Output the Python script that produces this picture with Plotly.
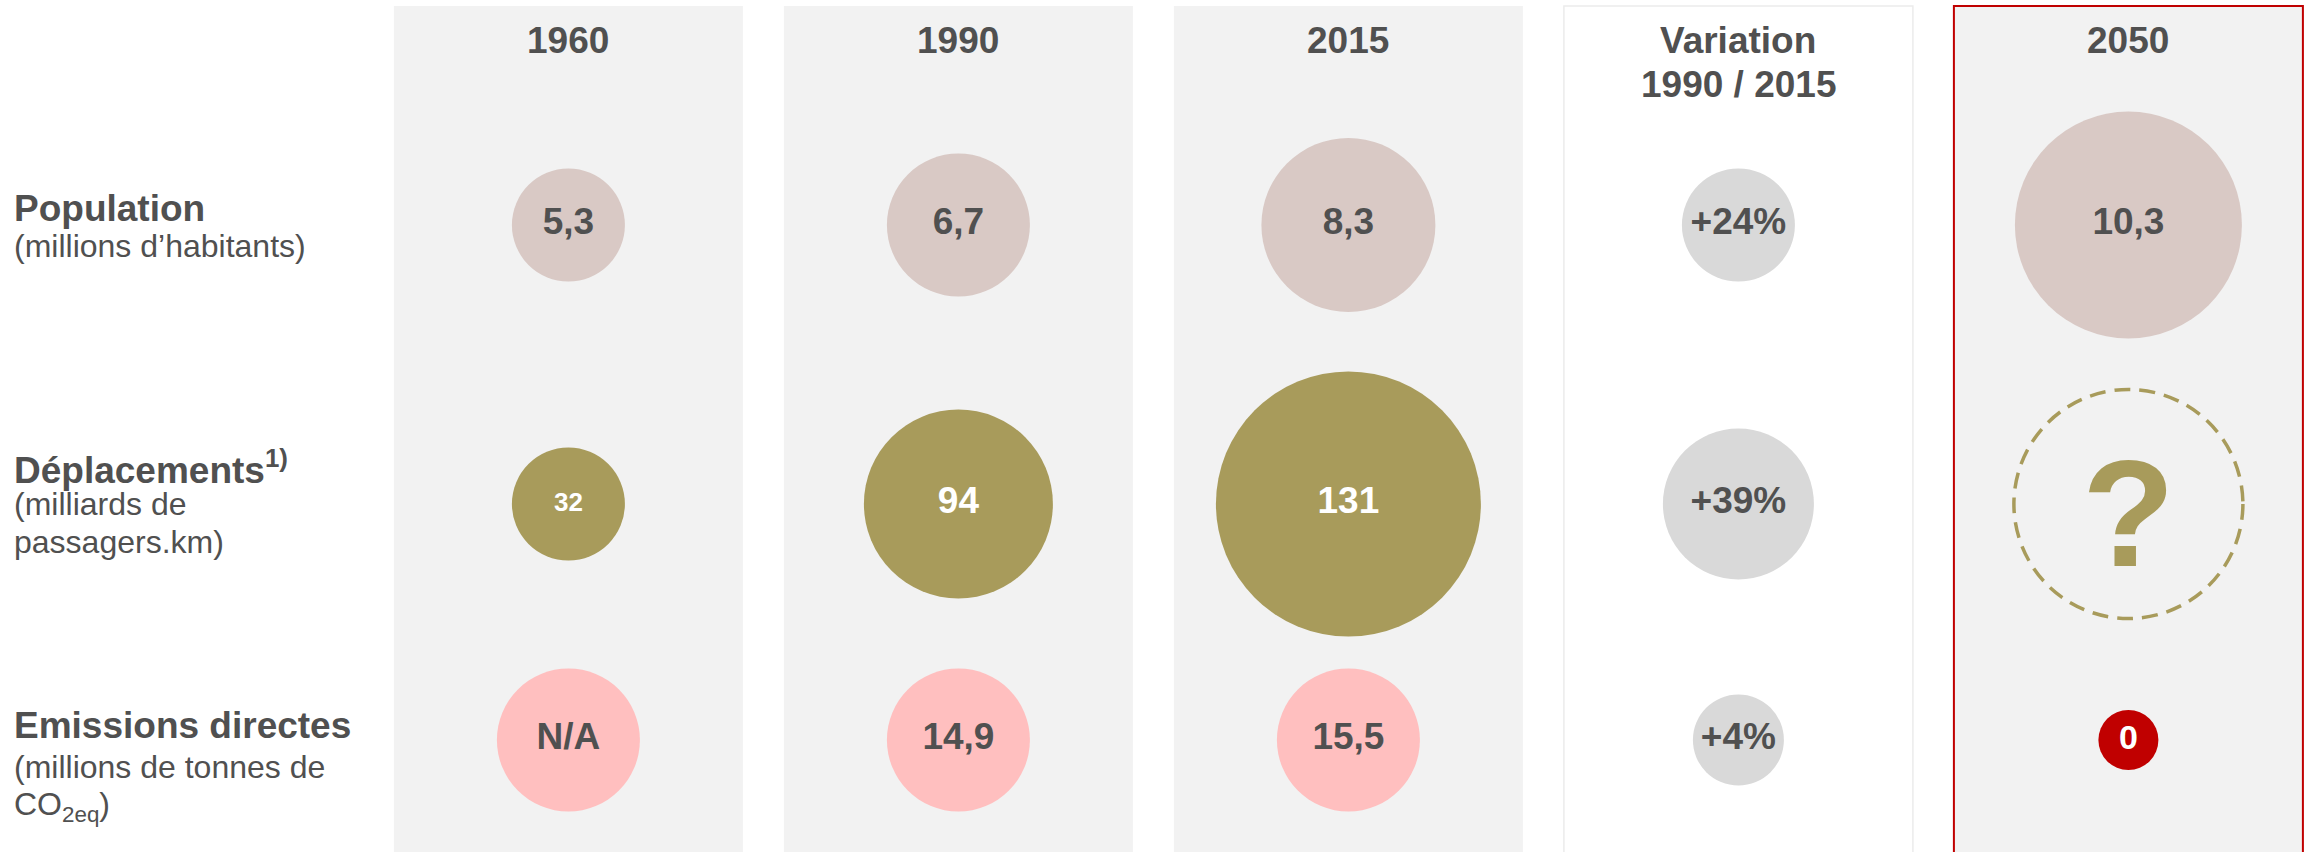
import plotly.graph_objects as go

# --- data -------------------------------------------------------------
YEARS = ["1960", "1990", "2015", "2050"]
POPULATION = [5.3, 6.7, 8.3, 10.3]          # millions d'habitants
DEPLACEMENTS = [32, 94, 131, None]          # milliards de passagers.km (2050 inconnu)
EMISSIONS = [None, 14.9, 15.5, 0]           # millions de tonnes de CO2eq (1960 N/A)
VARIATION_COL = "Variation<br>1990 / 2015"
VARIATION_PCT = [24, 39, 4]                 # variation 1990 / 2015, par ligne

ROW_TITLES = ["Population", "Déplacements<sup>1)</sup>", "Emissions directes"]
ROW_SUBTITLES = [
    ["(millions d’habitants)"],
    ["(milliards de", "passagers.km)"],
    ["(millions de tonnes de", "CO<sub>2eq</sub>)"],
]

# --- style / layout ---------------------------------------------------
COLUMNS = ["1960", "1990", "2015", VARIATION_COL, "2050"]
W, H = 2313, 852
COL_STEP = 390            # px between column centres
COL0_X = 568.4            # px of first column centre
PANEL_HALF = 174.5 / COL_STEP
ROW_Y = [225, 504, 740]   # px from top
TITLE_Y = [208, 467, 725]
SUB_Y = [[246], [504, 542], [767, 806]]

TEXT = "#505050"
PANEL = "#f2f2f2"
POP_C = "#d9c9c5"
OLIVE = "#a89b5b"
PINK = "#ffbfbf"
GREY = "#d9d9d9"
RED = "#c00000"
FONT = "Liberation Sans, Arial, sans-serif"

DIAM_POP = [113, 143, 174, 227]
DIAM_DEP = [113, 189, 265, 229]
DIAM_EM = [143, 143, 143, 60]
DIAM_VAR = [113, 151, 91]


def fr(v):
    if v is None:
        return "N/A"
    if isinstance(v, int):
        return str(v)
    return f"{v:.1f}".replace(".", ",")


fig = go.Figure()

# Population
fig.add_trace(go.Scatter(
    x=YEARS, y=[ROW_Y[0]] * len(YEARS), mode="markers+text",
    text=[fr(v) for v in POPULATION],
    marker={"size": DIAM_POP, "color": POP_C, "opacity": 1, "line": {"width": 0}},
    textfont={"size": 37, "color": TEXT, "family": FONT, "weight": "bold"},
    textposition="middle center", hoverinfo="skip", cliponaxis=False,
))

# Déplacements
fig.add_trace(go.Scatter(
    x=YEARS, y=[ROW_Y[1]] * len(YEARS), mode="markers+text",
    text=[fr(v) if v is not None else "" for v in DEPLACEMENTS],
    marker={"size": DIAM_DEP, "opacity": 1,
            "color": [OLIVE if v is not None else "rgba(0,0,0,0)" for v in DEPLACEMENTS],
            "line": {"width": 0}},
    textfont={"size": [26, 37, 37, 37], "color": "white",
              "family": FONT, "weight": "bold"},
    textposition="middle center", hoverinfo="skip", cliponaxis=False,
))

# Emissions directes
fig.add_trace(go.Scatter(
    x=YEARS, y=[ROW_Y[2]] * len(YEARS), mode="markers+text",
    text=[fr(v) for v in EMISSIONS],
    marker={"size": DIAM_EM, "color": [PINK, PINK, PINK, RED], "opacity": 1,
            "line": {"width": 0}},
    textfont={"size": [37, 37, 37, 34], "color": [TEXT, TEXT, TEXT, "white"],
              "family": FONT, "weight": "bold"},
    textposition="middle center", hoverinfo="skip", cliponaxis=False,
))

# Variation 1990 / 2015
fig.add_trace(go.Scatter(
    x=[VARIATION_COL] * len(VARIATION_PCT), y=ROW_Y, mode="markers+text",
    text=[f"+{p}%" for p in VARIATION_PCT],
    marker={"size": DIAM_VAR, "color": GREY, "opacity": 1, "line": {"width": 0}},
    textfont={"size": 37, "color": TEXT, "family": FONT, "weight": "bold"},
    textposition="middle center", hoverinfo="skip", cliponaxis=False,
))

# panels behind each column
shapes = []
for i, col in enumerate(COLUMNS):
    if col == VARIATION_COL:
        fill, line = "white", {"color": "#ececec", "width": 1.5}
    elif col == "2050":
        fill, line = PANEL, {"color": RED, "width": 2}
    else:
        fill, line = PANEL, {"width": 0}
    shapes.append(dict(type="rect", xref="x", yref="y", layer="below",
                       x0=i - PANEL_HALF, x1=i + PANEL_HALF, y0=6, y1=H + 10,
                       fillcolor=fill, line=line))

annotations = []
# unknown values: dashed outline + question mark
for j, v in enumerate(DEPLACEMENTS):
    if v is None:
        r = DIAM_DEP[j] / 2
        shapes.append(dict(type="circle", xref="x", yref="y",
                           xsizemode="pixel", ysizemode="pixel",
                           xanchor=COLUMNS.index(YEARS[j]), yanchor=ROW_Y[1],
                           x0=-r, x1=r, y0=-r, y1=r,
                           line={"color": OLIVE, "width": 3.5, "dash": "16px,9px"}))
        annotations.append(dict(x=COLUMNS.index(YEARS[j]), y=ROW_Y[1], xref="x",
                                yref="y", text="?", showarrow=False, yshift=-9,
                                xanchor="center", yanchor="middle",
                                font={"size": 152, "color": OLIVE, "family": FONT,
                                      "weight": "bold"}))

# column headers (x given as category index)
for i, col in enumerate(COLUMNS):
    for k, line_txt in enumerate(col.split("<br>")):
        annotations.append(dict(x=i, y=40 + 44 * k, xref="x", yref="y",
                                text=line_txt, showarrow=False,
                                xanchor="center", yanchor="middle",
                                font={"size": 37, "color": TEXT, "family": FONT,
                                      "weight": "bold"}))
# row labels
for title, ty, subs, sys in zip(ROW_TITLES, TITLE_Y, ROW_SUBTITLES, SUB_Y):
    annotations.append(dict(x=12 / W, y=ty, xref="paper", yref="y", text=title,
                            showarrow=False, xanchor="left", yanchor="middle",
                            font={"size": 37, "color": TEXT, "family": FONT,
                                  "weight": "bold"}))
    for s, sy in zip(subs, sys):
        annotations.append(dict(x=12 / W, y=sy, xref="paper", yref="y", text=s,
                                showarrow=False, xanchor="left", yanchor="middle",
                                font={"size": 32, "color": TEXT, "family": FONT}))

fig.update_layout(
    width=W, height=H,
    margin={"l": 0, "r": 0, "t": 0, "b": 0},
    paper_bgcolor="white", plot_bgcolor="white",
    showlegend=False,
    font={"family": FONT, "color": TEXT},
    xaxis={"type": "category", "categoryorder": "array", "categoryarray": COLUMNS,
           "range": [-COL0_X / COL_STEP, (W - COL0_X) / COL_STEP],
           "visible": False, "fixedrange": True},
    yaxis={"range": [H, 0], "visible": False, "fixedrange": True},
    shapes=shapes,
    annotations=annotations,
)

fig.write_html("out.html", config={"displayModeBar": False},
               post_script="document.body.style.margin='0';"
                           "document.body.style.overflow='hidden';")
